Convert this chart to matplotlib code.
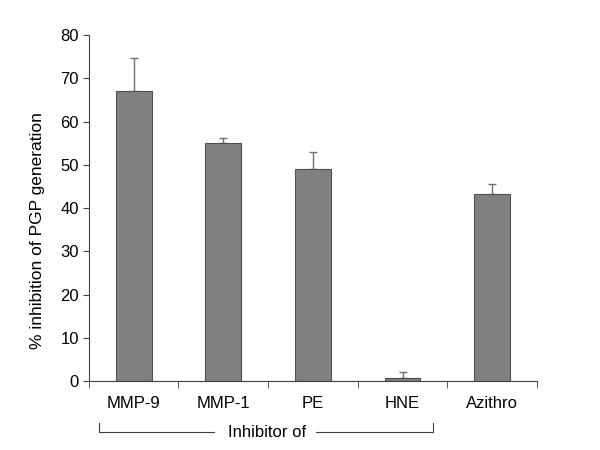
import matplotlib
matplotlib.use("Agg")
import matplotlib.pyplot as plt
import numpy as np

categories = ["MMP-9", "MMP-1", "PE", "HNE", "Azithro"]
values = [67.1, 55.0, 49.0, 0.8, 43.2]
errors = [7.7, 1.1, 3.9, 1.4, 2.3]
yticks = [0, 10, 20, 30, 40, 50, 60, 70, 80]
ylabel = "% inhibition of PGP generation"
group_label = "Inhibitor of"

plt.rcParams['font.family'] = ['Liberation Sans', 'DejaVu Sans']

fig = plt.figure(figsize=(6, 4.5), dpi=100)
ax = fig.add_axes([0.148, 0.153, 0.747, 0.769])

x = np.arange(len(categories))
ax.bar(x, values, width=0.4, color="#808080", edgecolor="#505050", linewidth=0.8, zorder=2)
ax.errorbar(x, values, yerr=[np.zeros(len(errors)), errors], fmt="none",
            ecolor="#707070", elinewidth=1, capsize=3, capthick=1, zorder=1)

ax.set_xlim(-0.5, len(categories) - 0.5)
ax.set_ylim(0, 80)
ax.set_yticks(yticks)
ax.set_yticklabels([str(t) for t in yticks], fontsize=12)

ax.set_xticks(x)
ax.set_xticklabels(categories, fontsize=12)
ax.tick_params(axis="x", which="major", length=0, pad=11)
ax.set_xticks(np.arange(-0.5, len(categories)), minor=True)
ax.tick_params(axis="x", which="minor", length=5, direction="out", color="#404040")
ax.tick_params(axis="y", length=4, direction="out", color="#404040", pad=3)

for s in ["top", "right"]:
    ax.spines[s].set_visible(False)
for s in ["left", "bottom"]:
    ax.spines[s].set_color("#404040")
    ax.spines[s].set_linewidth(0.8)

ax.set_ylabel(ylabel, fontsize=12.5)
ax.yaxis.set_label_coords(-0.097, 0.436)

# group bracket below the first four categories
tr = ax.get_xaxis_transform()
yb, yt = -0.147, -0.121
kw = dict(color="#404040", lw=0.8, transform=tr, clip_on=False)
ax.plot([-0.39, -0.39, 0.9], [yt, yb, yb], **kw)
ax.plot([2.04, 3.34, 3.34], [yb, yb, yt], **kw)
ax.text(1.49, yb, group_label, transform=tr, ha="center", va="center", fontsize=12)

fig.savefig("out.png", dpi=100)
